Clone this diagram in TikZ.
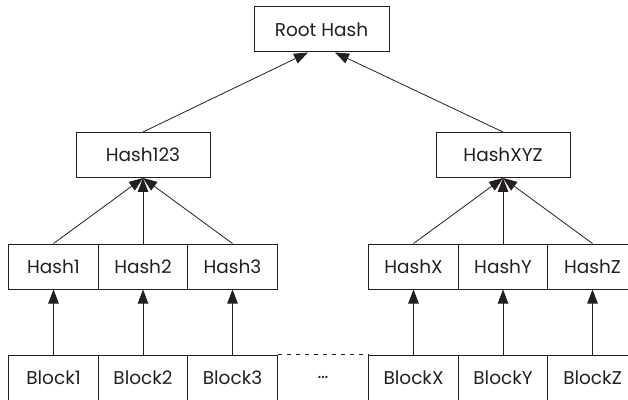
\documentclass[tikz,border=0pt]{standalone}
\usepackage{fontspec}
\setmainfont{Poppins}
\usetikzlibrary{arrows.meta}

\begin{document}
\begin{tikzpicture}[x=1pt,y=1pt,line width=0.8pt]
\definecolor{figline}{RGB}{35,31,32}
\providecommand{\fhash}{\fontsize{18.5}{20}\selectfont}
\tikzset{
  cell/.style={draw=figline,line width=1pt,rectangle,minimum width=89.5pt,minimum height=45pt,inner sep=0pt,font=\fhash,text=figline},
  topcell/.style={cell,minimum width=134pt},
  link/.style={draw=figline,-{Triangle[length=14pt,width=10.5pt]}}
}
\useasboundingbox (0,0) rectangle (628,399);
% root
\node[topcell,minimum width=135pt] (root) at (321.5,369.5) {Root Hash};
% middle level
\node[topcell] (h123) at (143.0,244.0) {Hash123};
\node[topcell] (hxyz) at (503.0,244.0) {HashXYZ};
% leaf hashes
\node[cell] (h1) at (53.5,132.5) {Hash1};
\node[cell] (h2) at (143.0,132.5) {Hash2};
\node[cell] (h3) at (232.5,132.5) {Hash3};
\node[cell] (hx) at (413.5,132.5) {HashX};
\node[cell] (hy) at (503.0,132.5) {HashY};
\node[cell] (hz) at (592.5,132.5) {HashZ};
% blocks
\node[cell] (b1) at (53.5,21.5) {Block1};
\node[cell] (b2) at (143.0,21.5) {Block2};
\node[cell] (b3) at (232.5,21.5) {Block3};
\node[inner sep=0pt,font=\fhash,text=figline] (dots) at (323.0,21.5) {…};
\node[cell] (bx) at (413.5,21.5) {BlockX};
\node[cell] (by) at (503.0,21.5) {BlockY};
\node[cell] (bz) at (592.5,21.5) {BlockZ};
\draw[figline,dash pattern=on 4pt off 5pt] (b3.north east) -- (bx.north west);
% arrows
\foreach \b/\h in {b1/h1,b2/h2,b3/h3,bx/hx,by/hy,bz/hz}
  \draw[link] (\b.north) -- (\h.south);
\foreach \h in {h1,h2,h3}
  \draw[link] (\h.north) -- (h123.south);
\foreach \h in {hx,hy,hz}
  \draw[link] (\h.north) -- (hxyz.south);
\draw[link] (h123.north) -- ([xshift=-13.5pt]root.south);
\draw[link] (hxyz.north) -- ([xshift=13.5pt]root.south);
\end{tikzpicture}
\end{document}
